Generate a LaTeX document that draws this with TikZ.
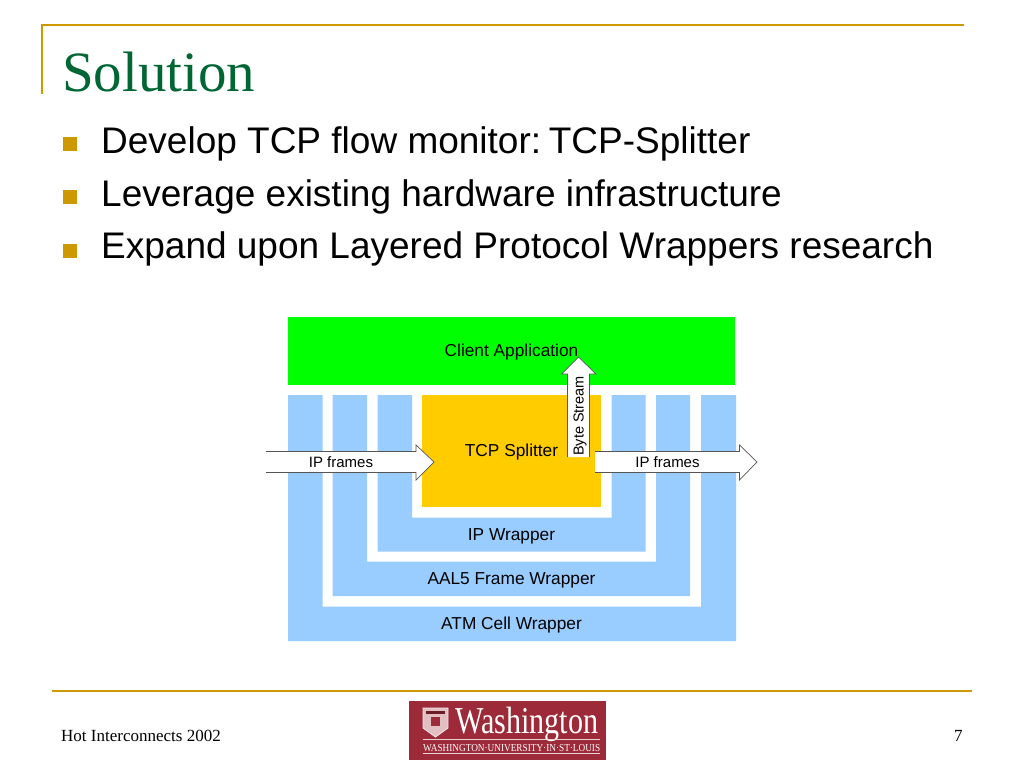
\documentclass[tikz,border=0pt]{standalone}
\usepackage{fontspec}
\setmainfont{Liberation Serif}
\setsansfont{Liberation Sans}
\definecolor{gold}{HTML}{CC9900}
\definecolor{titlegreen}{HTML}{006633}
\definecolor{wrapblue}{HTML}{99CCFF}
\definecolor{clientgreen}{HTML}{00FF00}
\definecolor{splitteryellow}{HTML}{FFCC00}
\definecolor{wured}{HTML}{9C2A38}
\definecolor{arrowline}{HTML}{555555}
\tikzstyle{rule} = [gold, line width=2pt]
\tikzstyle{bullet} = [rectangle, fill=gold, minimum size=14pt, inner sep=0pt]
\tikzstyle{bodytext} = [anchor=base west, inner sep=0pt, font=\sffamily\fontsize{37}{40}\selectfont]
\tikzstyle{footer} = [anchor=base west, inner sep=0pt, font=\rmfamily\fontsize{17}{18}\selectfont]
\tikzstyle{label} = [anchor=base, inner sep=0pt, font=\sffamily\fontsize{17.3}{18}\selectfont]
\tikzstyle{framelabel} = [anchor=base, inner sep=0pt, font=\sffamily\fontsize{15}{18}\selectfont]
\tikzstyle{wrapper} = [fill=wrapblue]
\tikzstyle{block} = [rectangle, inner sep=0pt]
\tikzstyle{bigarrow} = [draw=arrowline, line width=0.7pt]
\begin{document}
\begin{tikzpicture}[x=1pt, y=-1pt]
    \useasboundingbox (0,0) rectangle (1024,768);
    \fill [white] (0,0) rectangle (1024,768);

    % slide frame
    \draw [rule] (42,94) -- (42,25.5) -- (964,25.5);
    \draw [rule] (52,691) -- (972,691);
    \node (title) [anchor=base west, inner sep=0pt, text=titlegreen, font=\rmfamily\fontsize{57}{60}\selectfont] at (62,91) {Solution};

    % bullets
    \node (bulleta) [bullet] at (70,143.5) {};
    \node (bulletb) [bullet] at (70,197) {};
    \node (bulletc) [bullet] at (70,250.5) {};
    \node (linea) [bodytext] at (101,153) {Develop TCP flow monitor:\kern-6pt{} TCP-Splitter};
    \node (lineb) [bodytext] at (101,206) {Leverage existing hardware infrastructure};
    \node (linec) [bodytext] at (101,258) {Expand upon Layered Protocol Wrappers research};

    % wrappers
    \fill [wrapper] (288,395) -- (322.5,395) -- (322.5,606.5) -- (701,606.5) -- (701,395) -- (736,395) -- (736,641) -- (288,641) -- cycle;
    \fill [wrapper] (332.5,395) -- (367,395) -- (367,561.5) -- (656,561.5) -- (656,395) -- (690,395) -- (690,596) -- (332.5,596) -- cycle;
    \fill [wrapper] (377.5,395) -- (412,395) -- (412,517.5) -- (611.5,517.5) -- (611.5,395) -- (645.5,395) -- (645.5,551.5) -- (377.5,551.5) -- cycle;
    \node (atm) [label] at (511.5,629) {ATM Cell Wrapper};
    \node (aal) [label] at (511.5,584.5) {AAL5 Frame Wrapper};
    \node (ipw) [label] at (511.5,540) {IP Wrapper};

    \node (client) [block, fill=clientgreen, minimum width=447pt, minimum height=67.5pt] at (511.5,351) {};
    \node (splitter) [block, fill=splitteryellow, minimum width=179pt, minimum height=112pt] at (511.5,451) {};
    \node (clientname) [label] at (511.5,356) {Client Application};
    \node (splittername) [label] at (511.5,456.5) {TCP Splitter};

    % arrows
    \fill [white] (266,451.5) -- (416,451.5) -- (416,445) -- (434,462) -- (416,480) -- (416,472.5) -- (266,472.5) -- cycle;
    \draw [bigarrow] (266,451.5) -- (416,451.5) -- (416,445) -- (434,462) -- (416,480) -- (416,472.5) -- (266,472.5);
    \node (ipin) [framelabel] at (341,467) {IP frames};

    \fill [white] (595,451.5) -- (739.5,451.5) -- (739.5,445) -- (757,462) -- (739.5,480) -- (739.5,472.5) -- (595,472.5) -- cycle;
    \draw [bigarrow] (595,451.5) -- (739.5,451.5) -- (739.5,445) -- (757,462) -- (739.5,480) -- (739.5,472.5) -- (595,472.5);
    \node (ipout) [framelabel] at (667.5,467) {IP frames};

    \fill [white] (567.5,457) -- (567.5,374) -- (561.5,374) -- (578.5,357) -- (596,374) -- (589.5,374) -- (589.5,457) -- cycle;
    \draw [bigarrow] (567.5,457) -- (567.5,374) -- (561.5,374) -- (578.5,357) -- (596,374) -- (589.5,374) -- (589.5,457);
    \node (bytes) [framelabel, rotate=90, font=\sffamily\fontsize{14.5}{18}\selectfont] at (583.5,416) {Byte Stream};

    % footer
    \node (event) [footer] at (61,741) {Hot Interconnects 2002};
    \node (page) [footer] at (954,741) {7};

    % logo
    \node (logo) [rectangle, fill=wured, minimum width=197pt, minimum height=59pt, inner sep=0pt] at (507.5,730.5) {};
    \fill [white!70!wured, draw=white!90!wured, line width=0.8pt] (423,708) -- (448,708) -- (448,728) -- (435.5,737) -- (423,728) -- cycle;
    \fill [wured!70!black] (426,711) rectangle (445,714);
    \fill [wured] (431,717) rectangle (440,726);
    \node (wash) [anchor=base west, inner sep=0pt, text=white, font=\rmfamily\fontsize{38}{40}\selectfont] at (455,733) {\resizebox{143pt}{\height}{Washington}};
    \draw [white!80!wured, line width=0.5pt] (422.5,739.5) -- (600,739.5);
    \draw [white!80!wured, line width=0.5pt] (422.5,753.5) -- (600,753.5);
    \node (wuname) [anchor=base west, inner sep=0pt, text=white, font=\rmfamily\fontsize{10.6}{12}\selectfont] at (423,751) {\resizebox{177pt}{\height}{WASHINGTON·UNIVERSITY·IN·ST·LOUIS}};
\end{tikzpicture}
\end{document}
